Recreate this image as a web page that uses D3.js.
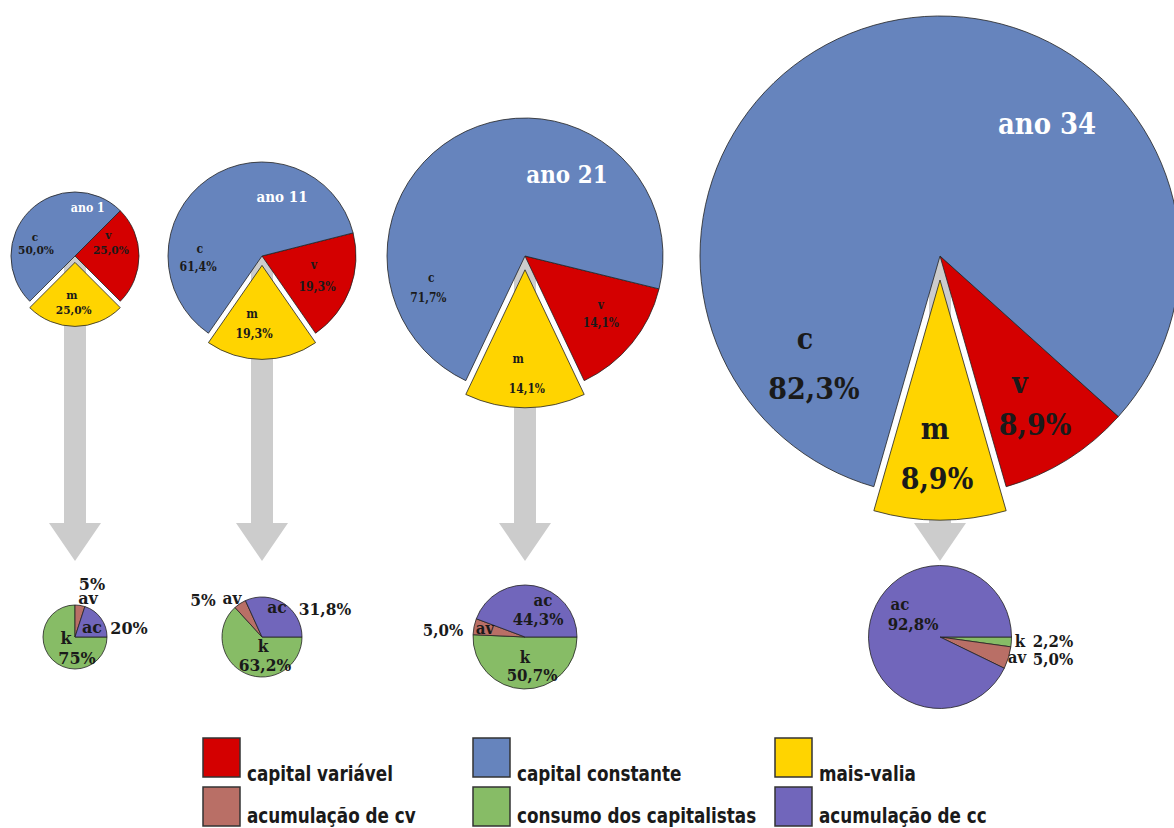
<!DOCTYPE html>
<html>
<head>
<meta charset="utf-8">
<script src="https://cdn.jsdelivr.net/npm/d3@7"></script>
<style>
  html, body { margin: 0; padding: 0; background: #fff; }
  svg { display: block; }
</style>
</head>
<body>
<div id="chart"></div>
<script>
// values (percent of the year's total)
const years = ["ano 1", "ano 11", "ano 21", "ano 34"];
const cShare = [50.0, 61.4, 71.7, 82.3];   // capital constante
const vShare = [25.0, 19.3, 14.1, 8.9];    // capital variável
const mShare = [25.0, 19.3, 14.1, 8.9];    // mais-valia
const kShare = [75.0, 63.2, 50.7, 2.2];    // consumo dos capitalistas
const avShare = [5.0, 5.0, 5.0, 5.0];      // acumulação de cv
const acShare = [20.0, 31.8, 44.3, 92.8];  // acumulação de cc
const kText = ["75%", "63,2%", "50,7%", "2,2%"];
const avText = ["5%", "5%", "5,0%", "5,0%"];
const acText = ["20%", "31,8%", "44,3%", "92,8%"];
const legendNames = ["capital variável", "capital constante", "mais-valia",
                     "acumulação de cv", "consumo dos capitalistas", "acumulação de cc"];
const legendKeys = ["v", "c", "m", "av", "k", "ac"];

const colors = { c: "#6684bd", v: "#d40000", m: "#ffd400", av: "#b96f66", k: "#87bc66", ac: "#7166bb" };

const width = 1174, height = 828;
const svg = d3.select("#chart").append("svg")
    .attr("width", width)
    .attr("height", height);

// layout of the four columns
const colX = [75, 262, 525, 940];
const topY = 256, botY = 637;
const topR = [64, 94, 138, 240];
const botR = [32, 40, 52, 71.5];
const topFs = [10.6, 11, 10.7, 27];
const yearFs = [11, 13.5, 21.5, 26];
const botFs = [16, 15.5, 15, 15];
const stretch = 1.12;

const fmt = d3.formatLocale({ decimal: ",", thousands: ".", grouping: [3], currency: ["", ""] }).format(".1f");
const pct = v => fmt(v) + "%";

// label centres, in units of the pie radius, relative to the pie centre
const topLabelPos = [
    { c: [-0.625, -0.29, -0.61, -0.1], v: [0.52, -0.32, 0.56, -0.1], m: [-0.05, 0.62, -0.02, 0.845], year: [0.2, -0.75] },
    { c: [-0.66, -0.064, -0.68, 0.117], v: [0.553, 0.106, 0.585, 0.33], m: [-0.106, 0.628, -0.085, 0.82], year: [0.213, -0.628] },
    { c: [-0.68, 0.167, -0.70, 0.304], v: [0.55, 0.362, 0.55, 0.486], m: [-0.05, 0.754, 0.014, 0.964], year: [0.304, -0.594] },
    { c: [-0.5625, 0.354, -0.525, 0.55], v: [0.333, 0.5375, 0.396, 0.70], m: [-0.021, 0.729, -0.0125, 0.925], year: [0.446, -0.554] }
];
// bottom labels, pixel offsets from the pie centre: [nameX, nameY, valueX, valueY]
const botLabelPos = [
    { av: [13, -38, 17, -53], ac: [17, -9, 54, -9], k: [-9, 1, 2, 21] },
    { av: [-30, -37, -59, -37], ac: [15, -28, 63, -28], k: [1, 9, 3, 28] },
    { av: [-40, -7, -82, -7], ac: [18, -35, 13, -18], k: [0, 20, 7, 38] },
    { av: [77, 22, 113, 22], ac: [-40, -31, -27, -13], k: [80, 4, 113, 4] }
];

function addText(g, x, y, str, fs, fill, family, s, tall) {
    g.append("text")
        .attr("transform", "translate(" + x + "," + y + ") scale(1," + s + ")")
        .attr("dy", tall ? "0.36em" : "0.27em")
        .attr("text-anchor", "middle")
        .style("font-family", family)
        .style("font-weight", "bold")
        .style("font-size", fs + "px")
        .style("fill", fill)
        .text(str);
}
const serif = "'DejaVu Serif', 'Liberation Serif', serif";

// grey arrows from each year down to its distribution pie
const arrowG = svg.append("g");
colX.forEach(function (cx) {
    const p = d3.path();
    const sw = 11, hw = 26, headTop = 523, tip = 561;
    p.moveTo(cx - sw, topY);
    p.lineTo(cx + sw, topY);
    p.lineTo(cx + sw, headTop);
    p.lineTo(cx + hw, headTop);
    p.lineTo(cx, tip);
    p.lineTo(cx - hw, headTop);
    p.lineTo(cx - sw, headTop);
    p.closePath();
    arrowG.append("path").attr("d", p.toString()).style("fill", "#cccccc");
});

// top pies: composition of value, mais-valia exploded
years.forEach(function (year, i) {
    const data = [
        { key: "v", value: vShare[i] },
        { key: "m", value: mShare[i] },
        { key: "c", value: cShare[i] }
    ];
    const total = d3.sum(data, d => d.value);
    const a0 = Math.PI - Math.PI * mShare[i] / total - 2 * Math.PI * vShare[i] / total;
    const pie = d3.pie().sort(null).value(d => d.value).startAngle(a0).endAngle(a0 + 2 * Math.PI);
    const r = topR[i];
    const arc = d3.arc().innerRadius(0).outerRadius(r);
    const g = svg.append("g").attr("transform", "translate(" + colX[i] + "," + topY + ")");
    const off = r * 0.1;

    g.selectAll("path")
        .data(pie(data))
        .join("path")
        .attr("d", arc)
        .attr("transform", function (d) {
            if (d.data.key !== "m") return null;
            const mid = (d.startAngle + d.endAngle) / 2;
            return "translate(" + (Math.sin(mid) * off) + "," + (-Math.cos(mid) * off) + ")";
        })
        .style("fill", d => colors[d.data.key])
        .style("stroke", "#222")
        .style("stroke-width", 0.8);

    const lp = topLabelPos[i];
    data.forEach(function (d) {
        const q = lp[d.key];
        addText(g, q[0] * r, q[1] * r, d.key, topFs[i], "#1a1a1a", serif, stretch, false);
        addText(g, q[2] * r, q[3] * r, pct(d.value), topFs[i], "#1a1a1a", serif, stretch, true);
    });
    addText(g, lp.year[0] * r, lp.year[1] * r, year, yearFs[i], "#ffffff", serif, stretch, true);
});

// bottom pies: where the mais-valia goes
years.forEach(function (year, i) {
    const data = [
        { key: "k", value: kShare[i], label: kText[i] },
        { key: "av", value: avShare[i], label: avText[i] },
        { key: "ac", value: acShare[i], label: acText[i] }
    ];
    const pie = d3.pie().sort(null).value(d => d.value)
        .startAngle(Math.PI / 2).endAngle(Math.PI / 2 + 2 * Math.PI);
    const arc = d3.arc().innerRadius(0).outerRadius(botR[i]);
    const g = svg.append("g").attr("transform", "translate(" + colX[i] + "," + botY + ")");

    g.selectAll("path")
        .data(pie(data))
        .join("path")
        .attr("d", arc)
        .style("fill", d => colors[d.data.key])
        .style("stroke", "#222")
        .style("stroke-width", 0.8);

    const lp = botLabelPos[i];
    data.forEach(function (d) {
        const q = lp[d.key];
        addText(g, q[0], q[1], d.key, botFs[i], "#1a1a1a", serif, 1.05, d.key === "k");
        addText(g, q[2], q[3], d.label, botFs[i], "#1a1a1a", serif, 1.05, true);
    });
});

// legend, two rows of three
const legX = [203, 473, 775];
const legY = [738, 787];
const legBase = [781, 823];
const legend = svg.append("g");
legendNames.forEach(function (name, j) {
    const col = j % 3, row = Math.floor(j / 3);
    legend.append("rect")
        .attr("x", legX[col])
        .attr("y", legY[row])
        .attr("width", 37)
        .attr("height", 39)
        .style("fill", colors[legendKeys[j]])
        .style("stroke", "#333")
        .style("stroke-width", 1.5);
    legend.append("text")
        .attr("transform", "translate(" + (legX[col] + 44) + "," + legBase[row] + ") scale(1,1.18)")
        .style("font-family", "'DejaVu Sans Condensed', 'DejaVu Sans', sans-serif")
        .style("font-stretch", "condensed")
        .style("font-weight", "bold")
        .style("font-size", "18.7px")
        .style("fill", "#1a1a1a")
        .text(name);
});
</script>
</body>
</html>
